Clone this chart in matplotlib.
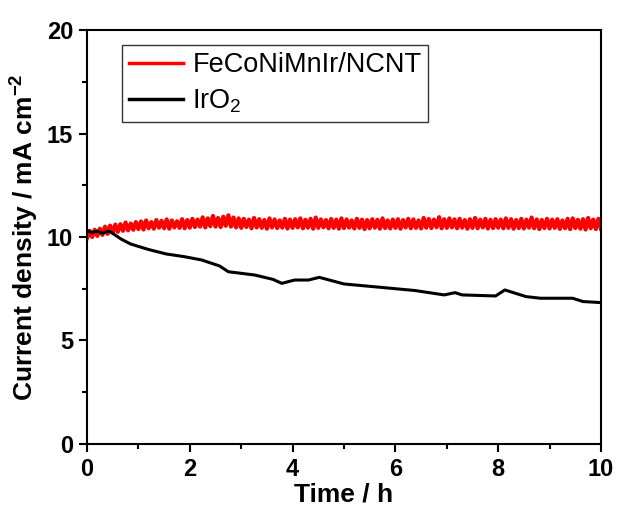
import matplotlib

matplotlib.use("Agg")
import matplotlib.pyplot as plt
import numpy as np

plt.rcParams["font.family"] = ["Liberation Sans", "DejaVu Sans"]
plt.rcParams["mathtext.fontset"] = "custom"
plt.rcParams["mathtext.rm"] = "Liberation Sans"
plt.rcParams["mathtext.bf"] = "Liberation Sans:bold"

# FeCoNiMnIr/NCNT: noisy trace, read as low points (every 0.1 h)
# and high points (offset by 0.05 h) of the red band
red_low = [
    9.95, 10.0, 10.05, 10.1, 10.15, 10.2, 10.25, 10.3, 10.32, 10.35,
    10.38, 10.36, 10.42, 10.4, 10.45, 10.42, 10.4, 10.46, 10.44, 10.42,
    10.45, 10.48, 10.5, 10.46, 10.52, 10.5, 10.48, 10.54, 10.5, 10.46,
    10.44, 10.48, 10.42, 10.46, 10.44, 10.4, 10.46, 10.43, 10.45, 10.41,
    10.44, 10.46, 10.42, 10.45, 10.4, 10.44, 10.47, 10.42, 10.44, 10.4,
    10.43, 10.45, 10.41, 10.44, 10.38, 10.42, 10.45, 10.4, 10.43, 10.41,
    10.44, 10.4, 10.46, 10.42, 10.44, 10.41, 10.45, 10.43, 10.47, 10.42,
    10.44, 10.46, 10.42, 10.45, 10.4, 10.44, 10.42, 10.46, 10.41, 10.43,
    10.45, 10.42, 10.44, 10.4, 10.43, 10.41, 10.45, 10.42, 10.38, 10.43,
    10.41, 10.44, 10.39, 10.42, 10.38, 10.43, 10.4, 10.36, 10.42, 10.38,
    10.4,
]
red_high = [
    10.3, 10.35, 10.4, 10.5, 10.55, 10.6, 10.62, 10.7, 10.65, 10.72,
    10.75, 10.8, 10.72, 10.82, 10.78, 10.85, 10.8, 10.76, 10.86, 10.82,
    10.88, 10.84, 10.95, 10.9, 11.02, 10.92, 10.98, 11.05, 10.94, 10.9,
    10.88, 10.84, 10.92, 10.86, 10.82, 10.9, 10.85, 10.8, 10.88, 10.84,
    10.86, 10.9, 10.83, 10.88, 10.94, 10.85, 10.82, 10.87, 10.84, 10.9,
    10.85, 10.8, 10.88, 10.84, 10.82, 10.86, 10.83, 10.9, 10.8, 10.84,
    10.86, 10.82, 10.88, 10.85, 10.8, 10.92, 10.87, 10.84, 10.96, 10.86,
    10.9, 10.85, 10.88, 10.82, 10.86, 10.92, 10.84, 10.88, 10.83, 10.86,
    10.84, 10.9, 10.86, 10.82, 10.88, 10.84, 10.94, 10.85, 10.82, 10.88,
    10.84, 10.86, 10.8, 10.88, 10.9, 10.83, 10.86, 10.92, 10.84, 10.88,
]

# IrO2 trace
iro2_t = [0.0, 0.1, 0.2, 0.3, 0.4, 0.46, 0.67, 0.85, 1.19, 1.54, 1.89, 2.23,
          2.58, 2.75, 3.27, 3.62, 3.79, 4.04, 4.31, 4.52, 5.0, 5.7, 6.39,
          6.95, 7.16, 7.3, 7.95, 8.13, 8.54, 8.82, 9.45, 9.65, 10.0]
iro2_j = [10.3, 10.22, 10.28, 10.18, 10.27, 10.24, 9.89, 9.66, 9.40, 9.18,
          9.05, 8.89, 8.60, 8.32, 8.16, 7.95, 7.76, 7.92, 7.92, 8.05, 7.73,
          7.57, 7.41, 7.20, 7.31, 7.20, 7.15, 7.44, 7.12, 7.04, 7.04, 6.88,
          6.83]

# interleave low / high readings into one trace
red_t = np.empty(len(red_low) + len(red_high))
red_j = np.empty_like(red_t)
red_t[0::2] = np.arange(len(red_low)) * 0.1
red_t[1::2] = np.arange(len(red_high)) * 0.1 + 0.05
red_j[0::2] = red_low
red_j[1::2] = red_high

fig = plt.figure(figsize=(6.17, 5.18), dpi=100)
ax = fig.add_axes([0.141, 0.143, 0.833, 0.799])

ax.plot(red_t, red_j, color="red", lw=3.0, label="FeCoNiMnIr/NCNT")
ax.plot(iro2_t, iro2_j, color="black", lw=2.2, label="IrO$_2$")

ax.set_xlim(0, 10)
ax.set_ylim(0, 20)
ax.set_xticks(range(0, 11, 2))
ax.set_yticks(range(0, 21, 5))
ax.set_xticks(np.arange(1, 10, 2), minor=True)
ax.set_yticks(np.arange(2.5, 20, 5), minor=True)
ax.tick_params(which="major", direction="out", length=6, width=1.5,
               labelsize=17, top=False, right=False, pad=4)
ax.tick_params(which="minor", direction="out", length=3.5, width=1.5,
               top=False, right=False)
for lab in ax.get_xticklabels() + ax.get_yticklabels():
    lab.set_fontweight("bold")
for sp in ax.spines.values():
    sp.set_linewidth(1.5)

ax.set_xlabel("Time / h", fontsize=19, fontweight="bold", labelpad=1)
ax.set_ylabel("Current density / mA cm$^{\\mathbf{-2}}$", fontsize=19,
              fontweight="bold", labelpad=5)

leg = ax.legend(loc="upper left", bbox_to_anchor=(0.068, 0.963),
                borderaxespad=0, fontsize=19.5, frameon=True, fancybox=False,
                edgecolor="black", handlelength=2.0, borderpad=0.25,
                labelspacing=0.35, handletextpad=0.35)
leg.get_frame().set_linewidth(1.0)
for line in leg.get_lines():
    line.set_linewidth(2.5)

fig.savefig("out.png", dpi=100)
